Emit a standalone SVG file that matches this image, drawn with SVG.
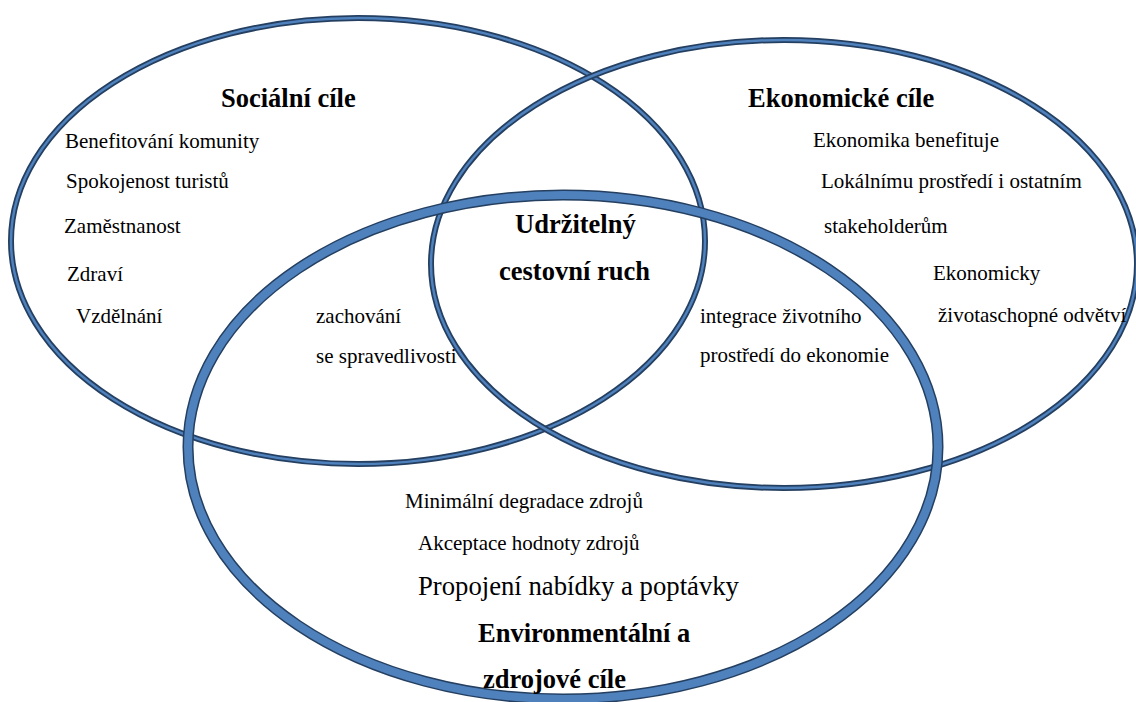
<svg xmlns="http://www.w3.org/2000/svg" width="1136" height="702" viewBox="0 0 1136 702">
<style>
.out{fill:none;stroke:#243F60;}
.in{fill:none;stroke:#4F81BD;}
.thin .out{stroke-width:6;}
.thin .in{stroke-width:2.5;}
.thick .out{stroke-width:11;}
.thick .in{stroke-width:8;}
text{font-family:"Liberation Serif","Times New Roman",serif;fill:#000;}
.t{font-size:21px;}
.b{font-size:26.5px;font-weight:bold;}
.l{font-size:26.7px;}
</style>
<rect x="0" y="0" width="1136" height="702" fill="#fff"/>
<g id="social" class="thin">
<ellipse class="out" cx="358" cy="241" rx="347" ry="223"/>
<ellipse class="in" cx="358" cy="241" rx="347" ry="223"/>
</g>
<g id="economic" class="thin">
<ellipse class="out" cx="784" cy="264" rx="353" ry="224"/>
<ellipse class="in" cx="784" cy="264" rx="353" ry="224"/>
</g>
<g id="environmental" class="thick">
<ellipse class="out" cx="563" cy="447" rx="375" ry="252"/>
<ellipse class="in" cx="563" cy="447" rx="375" ry="252"/>
</g>
<g id="connectors"></g>
<g id="social-text">
<text class="b" x="221" y="107">Sociální cíle</text>
<text class="t" x="65" y="148">Benefitování komunity</text>
<text class="t" x="66" y="188">Spokojenost turistů</text>
<text class="t" x="64" y="233">Zaměstnanost</text>
<text class="t" x="67" y="281">Zdraví</text>
<text class="t" x="76" y="323">Vzdělnání</text>
</g>
<g id="social-env-text">
<text class="t" x="316" y="323">zachování</text>
<text class="t" x="316" y="363">se spravedlivosti</text>
</g>
<g id="center-text">
<text class="b" x="515" y="233">Udržitelný</text>
<text class="b" x="499" y="280">cestovní ruch</text>
</g>
<g id="eco-env-text">
<text class="t" x="700" y="323">integrace životního</text>
<text class="t" x="700" y="362">prostředí do ekonomie</text>
</g>
<g id="economic-text">
<text class="b" x="748" y="107">Ekonomické cíle</text>
<text class="t" x="813" y="147">Ekonomika benefituje</text>
<text class="t" x="821" y="188">Lokálnímu prostředí i ostatním</text>
<text class="t" x="824" y="233">stakeholderům</text>
<text class="t" x="933" y="280">Ekonomicky</text>
<text class="t" x="938" y="322">životaschopné odvětví</text>
</g>
<g id="environmental-text">
<text class="t" x="405" y="508">Minimální degradace zdrojů</text>
<text class="t" x="418" y="550">Akceptace hodnoty zdrojů</text>
<text class="l" x="418" y="595">Propojení nabídky a poptávky</text>
<text class="b" x="478" y="642">Environmentální a</text>
<text class="b" x="483" y="688">zdrojové cíle</text>
</g>
</svg>
